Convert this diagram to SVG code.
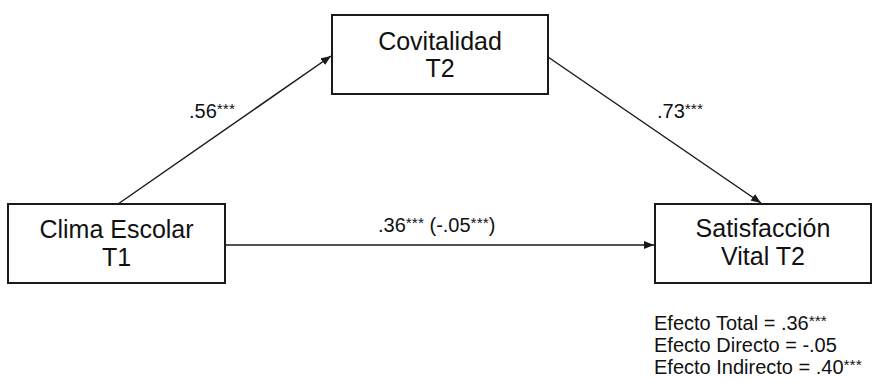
<svg xmlns="http://www.w3.org/2000/svg" width="877" height="388" viewBox="0 0 877 388">
  <style>
    .box { fill: #ffffff; stroke: #1a1a1a; stroke-width: 2; }
    .title { font-family: "Liberation Sans", Arial, sans-serif; font-size: 25px; fill: #111; text-anchor: middle; }
    .lbl { font-family: "Liberation Sans", Arial, sans-serif; font-size: 20px; fill: #111; }
    .sup { font-size: 15.5px; }
    .edge { stroke: #1a1a1a; stroke-width: 1.5; fill: none; marker-end: url(#arrow); }
  </style>
  <defs>
    <marker id="arrow" markerUnits="userSpaceOnUse" markerWidth="10" markerHeight="8" refX="10" refY="4" orient="auto">
      <path d="M0,0 L10,4 L0,8 z" fill="#1a1a1a"/>
    </marker>
  </defs>
  <rect width="877" height="388" fill="#ffffff"/>

  <g id="connectors">
    <line class="edge" x1="118" y1="204" x2="331" y2="56"/>
    <line class="edge" x1="548" y1="57" x2="761" y2="203"/>
    <line class="edge" x1="225" y1="245" x2="654" y2="245"/>
    <text class="lbl" x="189" y="118">.56<tspan class="sup" dy="-4">***</tspan></text>
    <text class="lbl" x="657" y="118">.73<tspan class="sup" dy="-4">***</tspan></text>
    <text class="lbl" x="378" y="232">.36<tspan class="sup" dy="-4">***</tspan><tspan dy="4"> (-.05</tspan><tspan class="sup" dy="-4">***</tspan><tspan dy="4">)</tspan></text>
  </g>

  <g id="covitalidad">
    <rect class="box" x="332" y="15" width="216" height="79"/>
    <text class="title" x="440" y="50">Covitalidad</text>
    <text class="title" x="440" y="77">T2</text>
  </g>

  <g id="clima-escolar">
    <rect class="box" x="8" y="204" width="217" height="79"/>
    <text class="title" x="116.5" y="238">Clima Escolar</text>
    <text class="title" x="116.5" y="266">T1</text>
  </g>

  <g id="satisfaccion">
    <rect class="box" x="655" y="204" width="216" height="79"/>
    <text class="title" x="763" y="237">Satisfacción</text>
    <text class="title" x="763" y="265">Vital T2</text>
  </g>

  <g id="efectos">
    <text class="lbl" x="654" y="330">Efecto Total = .36<tspan class="sup" dy="-4">***</tspan></text>
    <text class="lbl" x="654" y="352">Efecto Directo = -.05</text>
    <text class="lbl" x="654" y="374">Efecto Indirecto = .40<tspan class="sup" dy="-4">***</tspan></text>
  </g>
</svg>
